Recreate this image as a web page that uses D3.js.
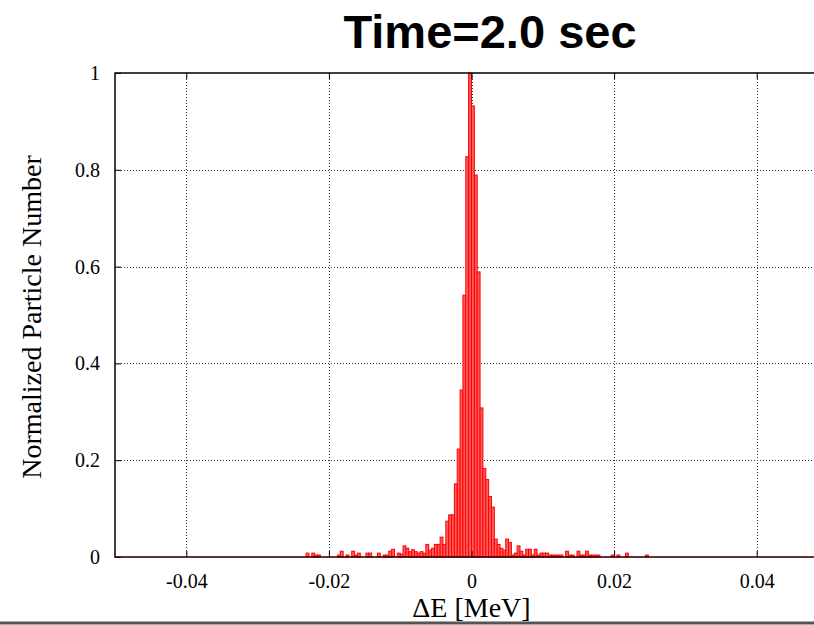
<!DOCTYPE html>
<html>
<head>
<meta charset="utf-8">
<script src="https://cdn.jsdelivr.net/npm/d3@7"></script>
<style>
  html, body { margin: 0; padding: 0; background: #fff; }
  svg { display: block; }
</style>
</head>
<body>
<svg id="chart" width="814" height="625"></svg>
<script>
// Energy-deviation histogram at t = 2.0 s, normalized to the peak bin.
const binWidth = 0.0004; // MeV
// Left edges of the non-empty bins (MeV)
const binLeft = [
  -0.0232, -0.0224, -0.0220, -0.0216, -0.0188, -0.0184, -0.0176, -0.0168, -0.0164, -0.0160,
  -0.0148, -0.0144, -0.0132, -0.0124, -0.0120, -0.0116, -0.0112, -0.0104, -0.0100, -0.0096,
  -0.0092, -0.0088, -0.0084, -0.0080, -0.0076, -0.0072, -0.0068, -0.0064, -0.0060, -0.0056,
  -0.0052, -0.0048, -0.0044, -0.0040, -0.0036, -0.0032, -0.0028, -0.0024, -0.0020, -0.0016,
  -0.0012, -0.0008, -0.0004,
   0.0000,  0.0004,  0.0008,  0.0012,  0.0016,  0.0020,  0.0024,  0.0028,  0.0032,  0.0036,
   0.0040,  0.0044,  0.0048,  0.0052,  0.0056,  0.0060,  0.0064,  0.0068,  0.0072,  0.0076,
   0.0080,  0.0084,  0.0088,  0.0092,  0.0096,  0.0100,  0.0104,  0.0108,  0.0112,  0.0116,
   0.0120,  0.0124,  0.0132,  0.0136,  0.0140,  0.0148,  0.0152,  0.0156,  0.0160,  0.0164,
   0.0168,  0.0172,  0.0176,  0.0196,  0.0204,  0.0216,  0.0244
];
// Normalized particle number in each bin
const particleNumber = [
  0.008, 0.008, 0.004, 0.004, 0.004, 0.012, 0.004, 0.012, 0.004, 0.008,
  0.008, 0.008, 0.008, 0.004, 0.004, 0.012, 0.016, 0.008, 0.006, 0.023,
  0.018, 0.011, 0.015, 0.011, 0.008, 0.011, 0.008, 0.026, 0.014, 0.018,
  0.026, 0.026, 0.041, 0.026, 0.074, 0.087, 0.087, 0.151, 0.223, 0.345,
  0.541, 0.827, 1.000,
  0.932, 0.789, 0.589, 0.308, 0.183, 0.160, 0.125, 0.103, 0.037, 0.026,
  0.018, 0.014, 0.037, 0.030, 0.004, 0.008, 0.023, 0.012, 0.004, 0.016,
  0.016, 0.004, 0.016, 0.004, 0.008, 0.008, 0.008, 0.004, 0.004, 0.004,
  0.004, 0.004, 0.012, 0.004, 0.004, 0.012, 0.004, 0.004, 0.012, 0.004,
  0.004, 0.004, 0.004, 0.004, 0.004, 0.008, 0.004
];
const xTicks = [-0.04, -0.02, 0, 0.02, 0.04];
const xTickLabels = ["-0.04", "-0.02", "0", "0.02", "0.04"];
const yTicks = [0, 0.2, 0.4, 0.6, 0.8, 1];
const yTickLabels = ["0", "0.2", "0.4", "0.6", "0.8", "1"];
const xDomain = [-0.05, 0.05];
const yDomain = [0, 1];
const titleText = "Time=2.0 sec";
const xTitle = "\u0394E [MeV]";
const yTitle = "Normalized Particle Number";

const serif = "'Liberation Serif', 'Times New Roman', serif";
const sans = "'Liberation Sans', Arial, Helvetica, sans-serif";

const svg = d3.select("#chart");
const plot = { left: 115, right: 828, top: 73, bottom: 557 };

const x = d3.scaleLinear().domain(xDomain).range([plot.left, plot.right]);
const y = d3.scaleLinear().domain(yDomain).range([plot.bottom, plot.top]);

// Dotted grid
const grid = svg.append("g").attr("stroke", "#333").attr("stroke-width", 1)
  .attr("stroke-dasharray", "1,2").attr("fill", "none");
grid.selectAll("line.vx").data(xTicks).join("line")
  .attr("x1", d => Math.round(x(d)) + 0.5).attr("x2", d => Math.round(x(d)) + 0.5)
  .attr("y1", plot.top).attr("y2", plot.bottom);
grid.selectAll("line.hy").data(yTicks.filter(d => d > 0 && d < 1)).join("line")
  .attr("x1", plot.left).attr("x2", plot.right)
  .attr("y1", d => Math.round(y(d)) + 0.5).attr("y2", d => Math.round(y(d)) + 0.5);

// Histogram bars
const bins = binLeft.map((b, i) => ({ left: b, value: particleNumber[i] }));
svg.append("g").selectAll("rect").data(bins).join("rect")
  .attr("x", d => x(d.left))
  .attr("width", d => x(d.left + binWidth) - x(d.left))
  .attr("y", d => y(d.value))
  .attr("height", d => y(0) - y(d.value))
  .attr("fill", "#ff5c5c")
  .attr("stroke", "#ff0000")
  .attr("stroke-width", 1);

// Axes with short inward ticks
const xAxis = d3.axisBottom(x).tickValues(xTicks).tickSize(-6).tickPadding(17)
  .tickFormat((d, i) => xTickLabels[i]);
const xAxisTop = d3.axisTop(x).tickValues(xTicks).tickSize(-6).tickFormat("");
const yAxis = d3.axisLeft(y).tickValues(yTicks).tickSize(-6).tickPadding(15)
  .tickFormat((d, i) => yTickLabels[i]);

function styleAxis(g) {
  g.select(".domain").remove();
  g.selectAll(".tick line").attr("stroke", "#000");
  g.selectAll(".tick text").attr("font-family", serif).attr("font-size", 20).attr("fill", "#000");
}
svg.append("g").attr("transform", `translate(0,${plot.bottom})`).call(xAxis).call(styleAxis);
svg.append("g").attr("transform", `translate(0,${plot.top})`).call(xAxisTop).call(styleAxis);
svg.append("g").attr("transform", `translate(${plot.left},0)`).call(yAxis).call(styleAxis);

// Frame
svg.append("rect")
  .attr("x", plot.left).attr("y", plot.top)
  .attr("width", plot.right - plot.left).attr("height", plot.bottom - plot.top)
  .attr("fill", "none").attr("stroke", "#000").attr("stroke-width", 1.5);
// Empty bins trace along the baseline
svg.append("line")
  .attr("x1", x(xDomain[0])).attr("x2", x(xDomain[1]))
  .attr("y1", y(0)).attr("y2", y(0))
  .attr("stroke", "#ff0000").attr("stroke-opacity", 0.35).attr("stroke-width", 1);

// Titles
svg.append("text")
  .attr("x", 490).attr("y", 48)
  .attr("text-anchor", "middle")
  .attr("font-family", sans).attr("font-weight", "bold").attr("font-size", 47)
  .text(titleText);

svg.append("text")
  .attr("x", x(0)).attr("y", 617)
  .attr("text-anchor", "middle")
  .attr("font-family", serif).attr("font-size", 28)
  .text(xTitle);

svg.append("text")
  .attr("transform", `translate(41,${(plot.top + plot.bottom) / 2 + 2}) rotate(-90)`)
  .attr("text-anchor", "middle")
  .attr("font-family", serif).attr("font-size", 28)
  .text(yTitle);

// Bottom rule
svg.append("rect").attr("x", 0).attr("y", 621.5).attr("width", 814).attr("height", 3).attr("fill", "#555");
</script>
</body>
</html>
